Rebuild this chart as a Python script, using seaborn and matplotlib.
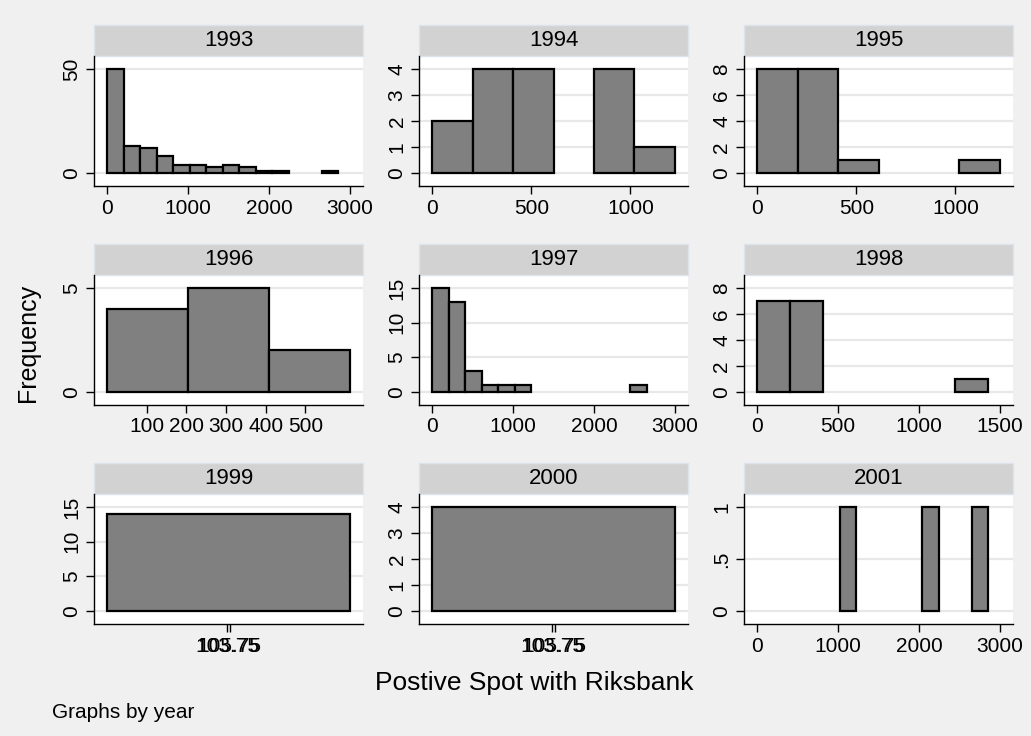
import numpy as np
import pandas as pd
import matplotlib.pyplot as plt
import seaborn as sns
from matplotlib.patches import Rectangle

# counts per bin (bin width ~204, starting at 0)
years = ['1993', '1994', '1995', '1996', '1997', '1998', '1999', '2000', '2001']
counts_1993 = [50, 13, 12, 8, 4, 4, 3, 4, 3, 1, 1, 0, 0, 1]
counts_1994 = [2, 4, 4, 0, 4, 1]
counts_1995 = [8, 8, 1, 0, 0, 1]
counts_1996 = [4, 5, 2]
counts_1997 = [15, 13, 3, 1, 1, 1, 0, 0, 0, 0, 0, 0, 1]
counts_1998 = [7, 7, 0, 0, 0, 0, 1]
counts_1999 = [14]
counts_2000 = [4]
counts_2001 = [0, 0, 0, 0, 0, 1, 0, 0, 0, 0, 1, 0, 0, 1]

bin_starts = [0, 0, 0, 0, 0, 0, 1.75, 1.75, 0]
bin_widths = [204, 204, 204, 204, 204, 204, 206, 206, 204]

xticks_1993 = [0, 1000, 2000, 3000]
xticks_1994 = [0, 500, 1000]
xticks_1995 = [0, 500, 1000]
xticks_1996 = [100, 200, 300, 400, 500]
xticks_1997 = [0, 1000, 2000, 3000]
xticks_1998 = [0, 500, 1000, 1500]
xticks_1999 = [103.75, 105.75]
xticks_2000 = [103.75, 105.75]
xticks_2001 = [0, 1000, 2000, 3000]

yticks_1993 = [0, 50]
yticks_1994 = [0, 1, 2, 3, 4]
yticks_1995 = [0, 2, 4, 6, 8]
yticks_1996 = [0, 5]
yticks_1997 = [0, 5, 10, 15]
yticks_1998 = [0, 2, 4, 6, 8]
yticks_1999 = [0, 5, 10, 15]
yticks_2000 = [0, 1, 2, 3, 4]
yticks_2001 = [0, 0.5, 1]
ylabels_2001 = ['0', '.5', '1']

all_counts = [counts_1993, counts_1994, counts_1995, counts_1996, counts_1997,
              counts_1998, counts_1999, counts_2000, counts_2001]
all_xticks = [xticks_1993, xticks_1994, xticks_1995, xticks_1996, xticks_1997,
              xticks_1998, xticks_1999, xticks_2000, xticks_2001]
all_yticks = [yticks_1993, yticks_1994, yticks_1995, yticks_1996, yticks_1997,
              yticks_1998, yticks_1999, yticks_2000, yticks_2001]

sns.set_theme(style='white')
plt.rcParams['font.family'] = ['Liberation Sans', 'DejaVu Sans']
plt.rcParams['text.color'] = 'black'
plt.rcParams['xtick.color'] = 'black'
plt.rcParams['ytick.color'] = 'black'
plt.rcParams['axes.labelcolor'] = 'black'

W, H = 1031, 736
fig = plt.figure(figsize=(W / 100, H / 100), dpi=100, facecolor='#f0f0f0')

col_left = [94, 419, 744]
row_top = [56, 275, 494]
ax_w, ax_h, strip_h = 269, 130, 31

for i, yr in enumerate(years):
    r, c = divmod(i, 3)
    ax = fig.add_axes([col_left[c] / W, 1 - (row_top[r] + ax_h) / H, ax_w / W, ax_h / H])
    ax.set_facecolor('white')

    counts = np.array(all_counts[i])
    edges = bin_starts[i] + bin_widths[i] * np.arange(len(counts) + 1)
    centers = (edges[:-1] + edges[1:]) / 2
    df = pd.DataFrame({'x': centers, 'n': counts})
    sns.histplot(data=df, x='x', weights='n', bins=edges.tolist(), ax=ax,
                 color='#808080', edgecolor='black', linewidth=1.6, alpha=1)
    # empty bins are not drawn in the reference
    for p in list(ax.patches):
        if p.get_height() == 0:
            p.remove()

    xt, yt = all_xticks[i], all_yticks[i]
    lo, hi = min(edges[0], xt[0]), max(edges[-1], xt[-1])
    pad = (hi - lo) * 0.054
    ax.set_xlim(lo - pad, hi + pad)
    ymax = max(counts.max(), yt[-1])
    ax.set_ylim(-0.125 * ymax, 1.125 * ymax)

    ax.set_xticks(xt)
    if yr in ('1999', '2000'):
        ax.set_xticklabels([f'{v:.2f}' for v in xt])
    else:
        ax.set_xticklabels([str(v) for v in xt])
    ax.set_yticks(yt)
    if yr == '2001':
        ax.set_yticklabels(ylabels_2001)
    else:
        ax.set_yticklabels([str(v) for v in yt])

    ax.tick_params(axis='both', direction='out', length=6, width=1, color='black',
                   labelcolor='black', labelsize=15, pad=3, left=True, bottom=True)
    for lab in ax.get_yticklabels():
        lab.set_rotation(90)
        lab.set_va('center')

    ax.yaxis.grid(True, color='#e8e8e8', linewidth=1.6)
    ax.xaxis.grid(False)
    ax.set_axisbelow(True)
    for s in ['top', 'right']:
        ax.spines[s].set_visible(False)
    for s in ['left', 'bottom']:
        ax.spines[s].set_color('black')
        ax.spines[s].set_linewidth(1)
    ax.set_xlabel('')
    ax.set_ylabel('')

    ax.add_patch(Rectangle((0, 1), 1, strip_h / ax_h, transform=ax.transAxes,
                           clip_on=False, facecolor='#d2d2d2', edgecolor='#dde3ec',
                           linewidth=1))
    ax.text(0.5, 1 + strip_h / ax_h / 2, yr, transform=ax.transAxes,
            ha='center', va='center', fontsize=16, color='black')

fig.text(28 / W, 1 - 343 / H, 'Frequency', rotation=90, ha='center', va='center',
         fontsize=18, color='black')
fig.text(534 / W, 1 - 683 / H, 'Postive Spot with Riksbank', ha='center', va='center',
         fontsize=19, color='black')
fig.text(52 / W, 1 - 713 / H, 'Graphs by year', ha='left', va='center',
         fontsize=15, color='black')

fig.savefig('out.png', dpi=100, facecolor=fig.get_facecolor())
